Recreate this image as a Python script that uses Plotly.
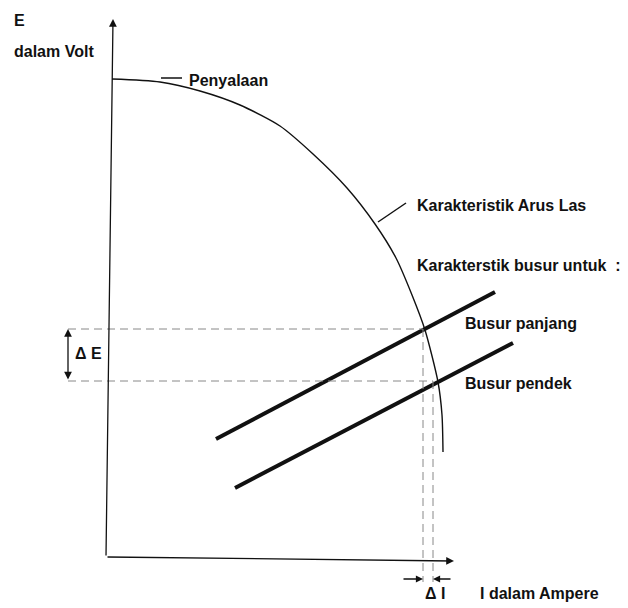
import plotly.graph_objects as go

# Diagram coordinates (pixel space, y grows downward)
curve_x = [112, 160, 200, 240, 280, 313, 347, 375, 396, 412, 425, 438, 442, 443]
curve_y = [79, 82, 91, 105, 126, 154, 188, 224, 258, 295, 330, 382, 415, 452]

busur_panjang_x = [216, 495]
busur_panjang_y = [439, 292]
busur_pendek_x = [235, 513]
busur_pendek_y = [488, 343]

op_x = [423, 433]          # operating currents (dashed verticals)
op_y = [329, 381]          # operating voltages (dashed horizontals)

labels = ["E", "dalam Volt", "Penyalaan", "Karakteristik Arus Las",
          "Karakterstik busur untuk  :", "Busur panjang", "Busur pendek",
          "\u0394 E", "\u0394 I", "I dalam Ampere"]

FONT = "Arial, Liberation Sans, Helvetica, sans-serif"

fig = go.Figure()

def seg(xs, ys, width=1.3, color="#111", dash=None):
    fig.add_trace(go.Scatter(x=xs, y=ys, mode="lines", hoverinfo="skip",
                             line=dict(color=color, width=width, dash=dash),
                             showlegend=False))

# Welding current characteristic curve
fig.add_trace(go.Scatter(x=curve_x, y=curve_y, mode="lines", hoverinfo="skip",
                         line=dict(color="#111", width=1.4, shape="spline", smoothing=0.7),
                         showlegend=False))

# Arc characteristic lines
seg(busur_panjang_x, busur_panjang_y, width=4)
seg(busur_pendek_x, busur_pendek_y, width=4)

# Dashed guide lines
for xv, yv in zip(op_x, op_y):
    seg([68, xv], [yv, yv], width=1, color="#888", dash="8px,5px")
    seg([xv, xv], [yv, 582], width=1, color="#888", dash="8px,5px")

# Leader ticks
seg([161, 182], [78, 78], width=1.5)
seg([378, 406], [222, 203], width=1.5)

# Axes lines (drawn as annotations with arrows)
arrows = [
    dict(x=113, y=19, ax=106, ay=557),    # y axis
    dict(x=454, y=561, ax=106, ay=557),   # x axis
]
for a in arrows:
    fig.add_annotation(x=a["x"], y=a["y"], ax=a["ax"], ay=a["ay"],
                       xref="x", yref="y", axref="x", ayref="y",
                       showarrow=True, arrowhead=2, arrowsize=1.2, arrowwidth=1.3,
                       arrowcolor="#111", text="")

# Delta E double arrow
fig.add_annotation(x=68, y=op_y[0], ax=68, ay=op_y[1], xref="x", yref="y",
                   axref="x", ayref="y", showarrow=True, arrowhead=2,
                   startarrowhead=2, arrowside="end+start", arrowsize=1.2,
                   startarrowsize=1.2, arrowwidth=1.3, arrowcolor="#111", text="")

# Delta I arrows
fig.add_annotation(x=op_x[0], y=579, ax=402, ay=579, xref="x", yref="y",
                   axref="x", ayref="y", showarrow=True, arrowhead=2,
                   arrowsize=1.1, arrowwidth=1.3, arrowcolor="#111", text="")
fig.add_annotation(x=op_x[1], y=579, ax=452, ay=579, xref="x", yref="y",
                   axref="x", ayref="y", showarrow=True, arrowhead=2,
                   arrowsize=1.1, arrowwidth=1.3, arrowcolor="#111", text="")

# Text labels
text_pos = [(12, 20), (12, 51), (187, 80), (415, 205), (415, 265),
            (463, 323), (463, 383), (73, 353), (423, 593), (478, 593)]
for t, (x, y) in zip(labels, text_pos):
    fig.add_annotation(x=x, y=y, xref="x", yref="y", text="<b>" + t + "</b>",
                       showarrow=False, xanchor="left", yanchor="middle",
                       font=dict(family=FONT, size=16, color="#111"))

# The page body has an 8px margin, so the figure is offset by 8px;
# ranges are shifted so picture pixel coordinates land in place.
fig.update_xaxes(range=[8, 628], visible=False, fixedrange=True)
fig.update_yaxes(range=[608, 8], visible=False, fixedrange=True)
fig.update_layout(width=620, height=600, margin=dict(l=0, r=0, t=0, b=0),
                  plot_bgcolor="white", paper_bgcolor="white")

fig.write_html("out.html")
